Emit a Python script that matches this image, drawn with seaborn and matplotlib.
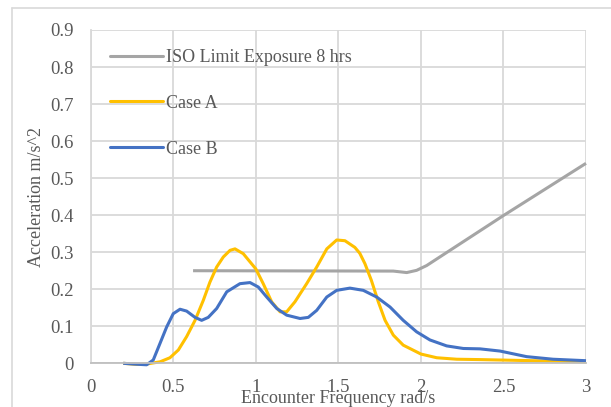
import matplotlib
matplotlib.use("Agg")
import matplotlib.pyplot as plt
import seaborn as sns
import pandas as pd
from matplotlib.lines import Line2D

# ---- data ----
iso_x = [0.62, 1.833, 1.914, 1.974, 2.035, 2.50, 3.00]
iso_y = [0.250, 0.249, 0.245, 0.251, 0.264, 0.399, 0.540]

a_x = [0.197, 0.279, 0.339, 0.42, 0.48, 0.531, 0.581, 0.632, 0.682, 0.722, 0.763, 0.803,
       0.844, 0.874, 0.924, 1.000, 1.045, 1.096, 1.147, 1.187, 1.237, 1.308, 1.369, 1.43,
       1.49, 1.54, 1.60, 1.63, 1.661, 1.70, 1.742, 1.783, 1.833, 1.893, 2.00, 2.096,
       2.217, 2.358, 2.68, 3.00]
a_y = [0.000, -0.003, -0.002, 0.004, 0.015, 0.036, 0.072, 0.116, 0.170, 0.219, 0.260, 0.287,
       0.305, 0.309, 0.296, 0.255, 0.215, 0.166, 0.139, 0.139, 0.166, 0.215, 0.260, 0.309,
       0.333, 0.331, 0.313, 0.297, 0.269, 0.224, 0.166, 0.116, 0.076, 0.049, 0.025, 0.015,
       0.011, 0.010, 0.007, 0.004]

b_x = [0.197, 0.258, 0.339, 0.379, 0.42, 0.46, 0.50, 0.541, 0.581, 0.632, 0.672, 0.712,
       0.763, 0.824, 0.904, 0.965, 1.015, 1.066, 1.127, 1.187, 1.268, 1.318, 1.369, 1.43,
       1.49, 1.57, 1.651, 1.732, 1.813, 1.893, 1.974, 2.055, 2.156, 2.257, 2.358, 2.48,
       2.64, 2.80, 3.00]
b_y = [0.000, -0.002, -0.004, 0.009, 0.054, 0.098, 0.134, 0.146, 0.141, 0.124, 0.116, 0.124,
       0.148, 0.193, 0.215, 0.218, 0.206, 0.179, 0.148, 0.130, 0.121, 0.124, 0.143, 0.179,
       0.197, 0.203, 0.197, 0.179, 0.152, 0.116, 0.085, 0.063, 0.047, 0.040, 0.039, 0.033,
       0.018, 0.011, 0.007]

series_names = ["ISO Limit Exposure 8 hrs", "Case A", "Case B"]
colors = ["#A5A5A5", "#FFC000", "#4472C4"]
x_ticks = [0, 0.5, 1, 1.5, 2, 2.5, 3]
x_tick_labels = ["0", "0.5", "1", "1.5", "2", "2.5", "3"]
y_ticks = [0, 0.1, 0.2, 0.3, 0.4, 0.5, 0.6, 0.7, 0.8, 0.9]
y_tick_labels = ["0", "0.1", "0.2", "0.3", "0.4", "0.5", "0.6", "0.7", "0.8", "0.9"]

frames = []
for name, xs, ys in zip(series_names, [iso_x, a_x, b_x], [iso_y, a_y, b_y]):
    frames.append(pd.DataFrame({"x": xs, "y": ys, "series": name}))
df = pd.concat(frames, ignore_index=True)

sns.set_theme(style="white")
plt.rcParams["font.family"] = ["Liberation Serif", "DejaVu Serif"]
txt = "#595959"

fig = plt.figure(figsize=(6.11, 4.07), dpi=100)
ax = fig.add_axes([90.7 / 611, 1 - 363.3 / 407, (586 - 90.7) / 611, (363.3 - 30) / 407])

sns.lineplot(data=df, x="x", y="y", hue="series", hue_order=series_names,
             palette=colors, estimator=None, sort=False, linewidth=2.2,
             ax=ax, legend=False)
for ln in ax.get_lines():
    ln.set_clip_on(False)
    ln.set_solid_capstyle("butt")
    ln.set_solid_joinstyle("round")

ax.set_xlim(0, 3)
ax.set_ylim(0, 0.9)
ax.set_xticks(x_ticks)
ax.set_xticklabels(x_tick_labels)
ax.set_yticks(y_ticks)
ax.set_yticklabels(y_tick_labels)
ax.grid(True, color="#D9D9D9", linewidth=1.3)
ax.set_axisbelow(True)
for s in ["top", "right"]:
    ax.spines[s].set_visible(False)
ax.spines["left"].set_color("#D9D9D9")
ax.spines["left"].set_linewidth(1.3)
ax.spines["bottom"].set_color("#BFBFBF")
ax.spines["bottom"].set_linewidth(1.3)
ax.tick_params(axis="both", length=0, labelsize=13.5, labelcolor=txt)
ax.tick_params(axis="x", pad=11.5)
ax.tick_params(axis="y", pad=12)

ax.set_xlabel("Encounter Frequency rad/s", fontsize=13, color=txt, labelpad=-4.5)
ax.set_ylabel("Acceleration m/s^2", fontsize=13, color=txt, labelpad=4)

handles = [Line2D([0], [0], color=c, linewidth=2.2) for c in colors]
leg = ax.legend(handles, series_names, loc="upper left", bbox_to_anchor=(0.025, 0.965),
                frameon=False, fontsize=13, labelspacing=1.6, handlelength=2.9,
                handletextpad=0.2, borderaxespad=0)
for t in leg.get_texts():
    t.set_color(txt)

# outer chart border (left and top visible)
fig.add_artist(Line2D([12 / 611, 12 / 611], [0, 1 - 8 / 407], color="#D9D9D9",
                      linewidth=1.2, transform=fig.transFigure))
fig.add_artist(Line2D([12 / 611, 1], [1 - 8 / 407, 1 - 8 / 407], color="#D9D9D9",
                      linewidth=1.2, transform=fig.transFigure))

fig.savefig("out.png", dpi=100)
